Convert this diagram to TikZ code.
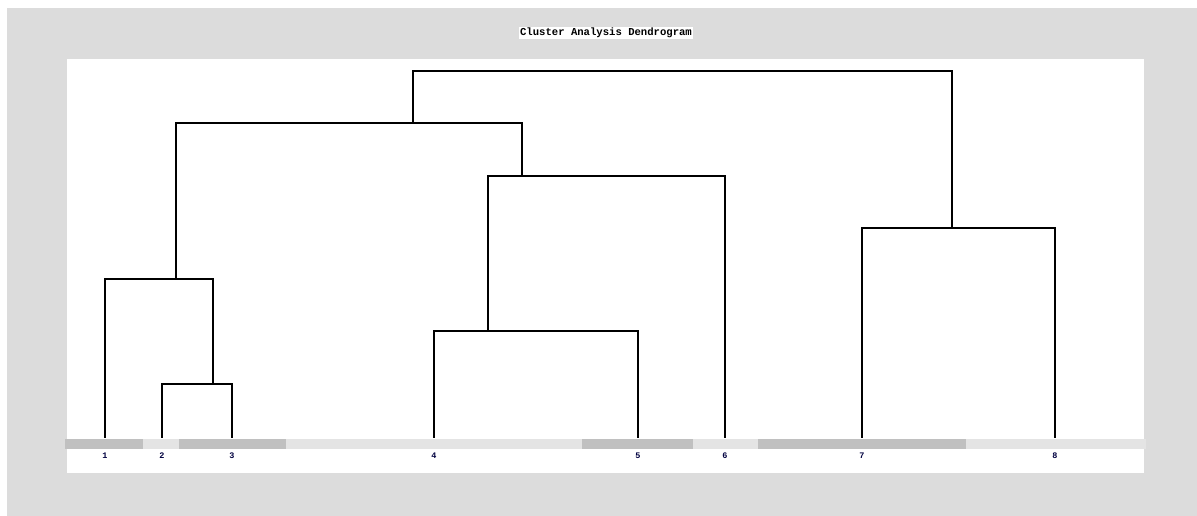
\documentclass[tikz,border=0pt]{standalone}
\usepackage{fontspec}
\setmonofont{Liberation Mono}
\definecolor{frame}{RGB}{220,220,220}
\definecolor{bandA}{RGB}{192,192,192}
\definecolor{bandB}{RGB}{228,228,228}
\begin{document}
\begin{tikzpicture}[x=1pt,y=-1pt,line join=miter,line cap=rect]
	\tikzset{
		link/.style={line width=1.5pt,black},
		leaflabel/.style={font=\ttfamily\bfseries\fontsize{8.5}{9}\selectfont,text=black!75!blue,inner sep=0pt}
	}
	% page and frame
	\useasboundingbox (0,0) rectangle (1197,516);
	\fill[white] (0,0) rectangle (1197,516);
	\fill[frame] (7,8) rectangle (1197,516);
	\fill[white] (67,59) rectangle (1144,473);

	% title
	\node[fill=white,inner sep=1pt,font=\ttfamily\bfseries\fontsize{10.6}{11}\selectfont] (title) at (606,33) {Cluster Analysis Dendrogram};

	% bands under the leaves
	\fill[bandA] (65,439) rectangle (143,449);
	\fill[bandB] (143,439) rectangle (179,449);
	\fill[bandA] (179,439) rectangle (286,449);
	\fill[bandB] (286,439) rectangle (582,449);
	\fill[bandA] (582,439) rectangle (693,449);
	\fill[bandB] (693,439) rectangle (758,449);
	\fill[bandA] (758,439) rectangle (966,449);
	\fill[bandB] (966,439) rectangle (1146,449);

	% leaves
	\coordinate (l1) at (105,437);
	\coordinate (l2) at (162,437);
	\coordinate (l3) at (232,437);
	\coordinate (l4) at (434,437);
	\coordinate (l5) at (638,437);
	\coordinate (l6) at (725,437);
	\coordinate (l7) at (862,437);
	\coordinate (l8) at (1055,437);

	% merge points
	\coordinate (m23) at (213,384);
	\coordinate (m123) at (176,279);
	\coordinate (m45) at (488,331);
	\coordinate (m456) at (522,176);
	\coordinate (m16) at (413,123);
	\coordinate (m78) at (952,228);
	\coordinate (m18) at (680,71);

	% links
	\draw[link] (l2) |- (m23) -| (l3);
	\draw[link] (l1) |- (m123) -| (m23);
	\draw[link] (l4) |- (m45) -| (l5);
	\draw[link] (m45) |- (m456) -| (l6);
	\draw[link] (m123) |- (m16) -| (m456);
	\draw[link] (l7) |- (m78) -| (l8);
	\draw[link] (m16) |- (m18) -| (m78);

	% leaf labels
	\foreach \i in {1,...,8}
		\node[leaflabel] (t\i) at ([yshift=-19pt]l\i) {\i};
\end{tikzpicture}
\end{document}
